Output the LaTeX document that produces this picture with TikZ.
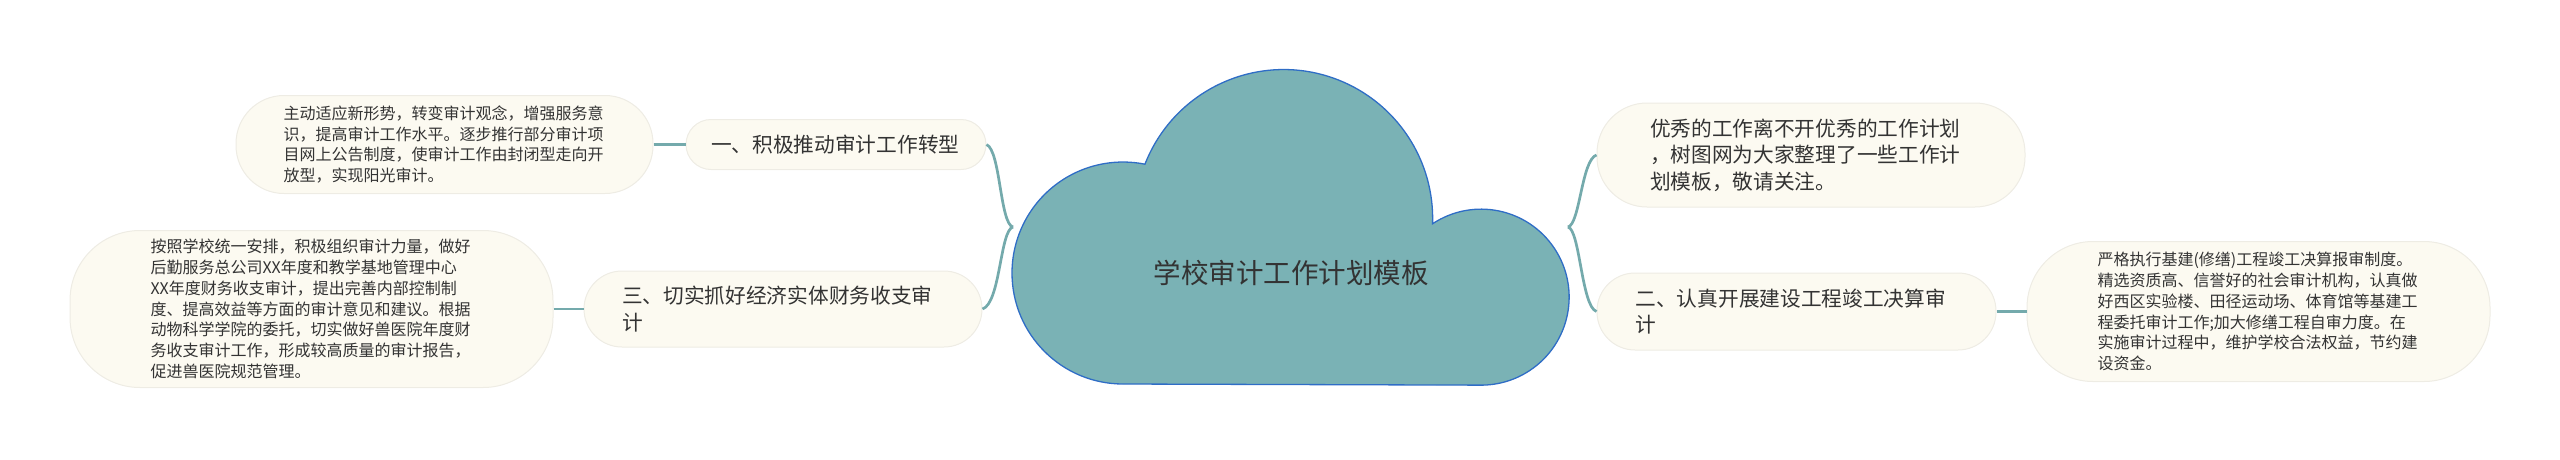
\documentclass[tikz,border=0pt]{standalone}
\usepackage{fontspec}
\newfontfamily\cjk{Noto Sans CJK SC}
\usetikzlibrary{positioning}
\definecolor{cloudfill}{HTML}{7AB2B5}
\definecolor{cloudline}{HTML}{2F6DC6}
\definecolor{linkteal}{HTML}{74AAAC}
\definecolor{bubblefill}{HTML}{FCFAF1}
\definecolor{bubbleline}{HTML}{EEECE4}
\definecolor{textgray}{HTML}{333333}
\tikzset{
	bubble/.style = {draw = bubbleline, line width = 1pt, fill = bubblefill, text = textgray, text width = 322pt, align = left, inner sep = 0pt},
	topic/.style = {bubble, font = \cjk\fontsize{20.7}{26.6}\selectfont},
	detail/.style = {bubble, font = \cjk\fontsize{16}{20.8}\selectfont},
	link/.style = {draw = linkteal, line width = 2.7pt}
}

\begin{document}
\begin{tikzpicture}[x = 1pt, y = -1pt]
		\useasboundingbox (0, 0) rectangle (2560, 459);
		\filldraw [fill = cloudfill, draw = cloudline, line width = 1.3pt] (1123, 384) arc [start angle = 270, end angle = 78.6, radius = 111pt] arc [start angle = 158.6, end angle = -2, radius = 149pt] arc [start angle = 123.5, end angle = -90, radius = 88pt] -- cycle;
		\node [font = \cjk\fontsize{27.5}{33}\selectfont, text = textgray] (root) at (1291, 273) {学校审计工作计划模板};
		\coordinate (rootL) at (1013, 227);
		\coordinate (rootR) at (1568, 227);

		\node [topic, text width = 250pt, minimum width = 300pt, minimum height = 50pt, rounded corners = 25pt] (one) at (836, 144.5) {一、积极推动审计工作转型};
		\node [detail, minimum width = 417pt, minimum height = 98pt, rounded corners = 48pt] (oneD) at (444.5, 144.5) {主动适应新形势，转变审计观念，增强服务意\\识，提高审计工作水平。逐步推行部分审计项\\目网上公告制度，使审计工作由封闭型走向开\\放型，实现阳光审计。};

		\node [topic, minimum width = 398pt, minimum height = 76pt, rounded corners = 38pt] (three) at (783, 309) {三、切实抓好经济实体财务收支审\\计};
		\node [detail, minimum width = 483pt, minimum height = 157pt, rounded corners = 70pt] (threeD) at (311.5, 309) {按照学校统一安排，积极组织审计力量，做好\\后勤服务总公司XX年度和教学基地管理中心\\XX年度财务收支审计，提出完善内部控制制\\度、提高效益等方面的审计意见和建议。根据\\动物科学学院的委托，切实做好兽医院年度财\\务收支审计工作，形成较高质量的审计报告，\\促进兽医院规范管理。};

		\node [topic, minimum width = 428pt, minimum height = 104pt, rounded corners = 50pt] (intro) at (1811, 155) {优秀的工作离不开优秀的工作计划\\，树图网为大家整理了一些工作计\\划模板，敬请关注。};

		\node [topic, minimum width = 399pt, minimum height = 77pt, rounded corners = 38pt] (two) at (1796.5, 311.5) {二、认真开展建设工程竣工决算审\\计};
		\node [detail, minimum width = 463pt, minimum height = 140pt, rounded corners = 66pt] (twoD) at (2258.5, 311.5) {严格执行基建(修缮)工程竣工决算报审制度。\\精选资质高、信誉好的社会审计机构，认真做\\好西区实验楼、田径运动场、体育馆等基建工\\程委托审计工作;加大修缮工程自审力度。在\\实施审计过程中，维护学校合法权益，节约建\\设资金。};

		\draw [link] (rootL) .. controls +(-13, -3) and +(14, 6) .. (one.east);
		\draw [link] (rootL) .. controls +(-13, 3) and +(18, -6) .. (three.east);
		\draw [link] (rootR) .. controls +(12, -3) and +(-15, 5) .. (intro.west);
		\draw [link] (rootR) .. controls +(12, 3) and +(-15, -5) .. (two.west);
		\draw [link] (oneD.east) -- (one.west);
		\draw [link] (threeD.east) -- (three.west);
		\draw [link] (two.east) -- (twoD.west);
	\end{tikzpicture}
\end{document}
